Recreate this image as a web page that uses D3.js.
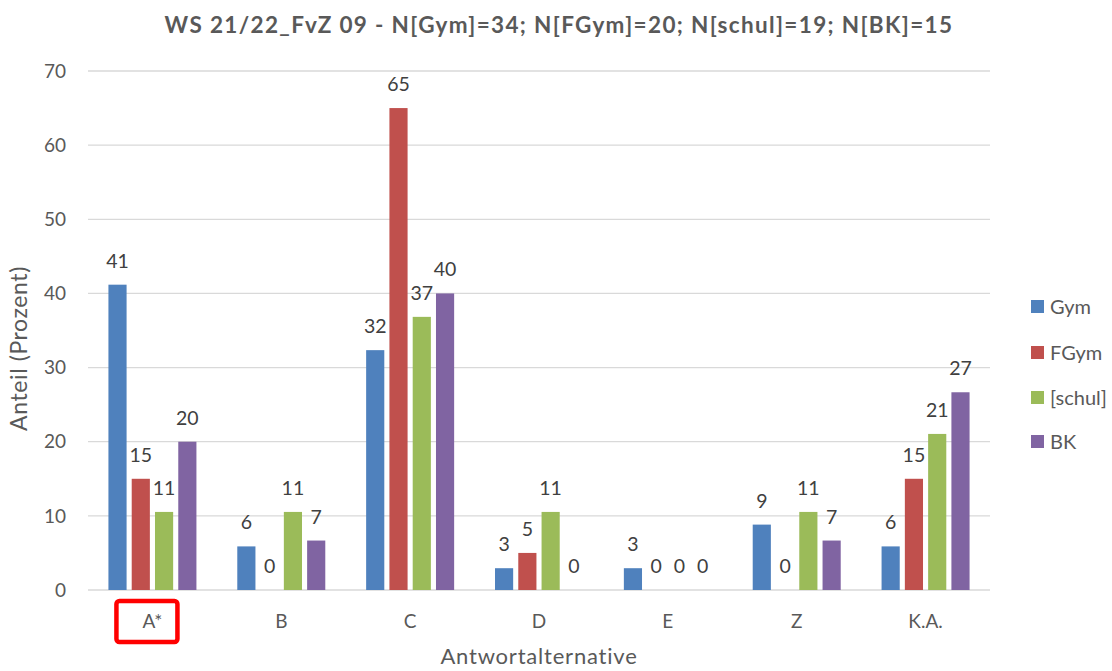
<!DOCTYPE html>
<html>
<head>
<meta charset="utf-8">
<script src="https://cdn.jsdelivr.net/npm/d3@7"></script>
<style>
  html, body { margin: 0; padding: 0; background: #fff; }
  svg { display: block; font-family: Lato, "Open Sans", sans-serif; }
</style>
</head>
<body>
<svg id="chart" width="1112" height="671"></svg>
<script>
// Response shares (percent) per answer option and school type
const categories = ["A*", "B", "C", "D", "E", "Z", "K.A."];
const seriesNames = ["Gym", "FGym", "[schul]", "BK"];
const gym   = [41.18, 5.88, 32.35, 2.94, 2.94, 8.82, 5.88];
const fgym  = [15, 0, 65, 5, 0, 0, 15];
const schul = [10.53, 10.53, 36.84, 10.53, 0, 10.53, 21.05];
const bk    = [20, 6.67, 40, 0, 0, 6.67, 26.67];
const yTicks = [0, 10, 20, 30, 40, 50, 60, 70];
const colors = ["#4F81BD", "#C0504D", "#9BBB59", "#8064A2"];
const titleText = "WS 21/22_FvZ 09 - N[Gym]=34; N[FGym]=20; N[schul]=19; N[BK]=15";

const values = [gym, fgym, schul, bk];
const rows = categories.map((c, i) => ({
  cat: c,
  vals: seriesNames.map((s, j) => ({ key: s, value: values[j][i], color: colors[j] }))
}));

const svg = d3.select("#chart");
const m = { left: 88, right: 990, top: 71, bottom: 590 };

const x0 = d3.scaleBand().domain(categories).range([m.left, m.right]).padding(0);
const groupW = 88;
const x1 = d3.scaleBand().domain(seriesNames).range([0, groupW]).paddingInner(0.22);
const y = d3.scaleLinear().domain([0, 70]).range([m.bottom, m.top]);

// gridlines
svg.append("g")
  .selectAll("line").data(yTicks).join("line")
  .attr("x1", m.left).attr("x2", m.right)
  .attr("y1", d => y(d)).attr("y2", d => y(d))
  .attr("stroke", "#d9d9d9").attr("stroke-width", 1.3);

// y tick labels
svg.append("g")
  .selectAll("text").data(yTicks).join("text")
  .attr("x", 66).attr("y", d => y(d)).attr("dy", "0.35em")
  .attr("text-anchor", "end")
  .attr("font-size", 19).attr("fill", "#595959")
  .text(d => d);

// bars
const groups = svg.append("g").selectAll("g").data(rows).join("g")
  .attr("transform", d => `translate(${x0(d.cat) + (x0.bandwidth() - groupW) / 2},0)`);

groups.selectAll("rect").data(d => d.vals).join("rect")
  .attr("x", d => x1(d.key))
  .attr("width", x1.bandwidth())
  .attr("y", d => y(d.value))
  .attr("height", d => y(0) - y(d.value))
  .attr("fill", d => d.color);

// value labels
groups.selectAll("text").data(d => d.vals).join("text")
  .attr("x", d => x1(d.key) + x1.bandwidth() / 2)
  .attr("y", d => y(d.value) - 17)
  .attr("text-anchor", "middle")
  .attr("font-size", 19.5).attr("fill", "#404040")
  .text(d => d3.format(".0f")(d.value));

// x category labels
svg.append("g")
  .selectAll("text").data(categories).join("text")
  .attr("x", d => x0(d) + x0.bandwidth() / 2)
  .attr("y", 628)
  .attr("text-anchor", "middle")
  .attr("font-size", 19).attr("fill", "#595959")
  .text(d => d);

// highlight box around the correct answer
const cx = x0("A*") + x0.bandwidth() / 2;
svg.append("rect")
  .attr("x", cx - 36).attr("y", 601)
  .attr("width", 61).attr("height", 41)
  .attr("rx", 3)
  .attr("fill", "none").attr("stroke", "#ff0000").attr("stroke-width", 4.5);

// axis titles
svg.append("text")
  .attr("transform", `translate(27,${(m.top + m.bottom) / 2 + 18}) rotate(-90)`)
  .attr("text-anchor", "middle")
  .attr("font-size", 23).attr("letter-spacing", 0.6).attr("fill", "#595959")
  .text("Anteil (Prozent)");

svg.append("text")
  .attr("x", 539).attr("y", 664)
  .attr("text-anchor", "middle")
  .attr("font-size", 22).attr("letter-spacing", 0.8).attr("fill", "#595959")
  .text("Antwortalternative");

// title
svg.append("text")
  .attr("x", 559).attr("y", 33)
  .attr("text-anchor", "middle")
  .attr("font-size", 22.5).attr("letter-spacing", 1.35)
  .attr("font-weight", "bold").attr("fill", "#595959")
  .text(titleText);

// legend
const legendY = [307, 353, 398, 442];
const legend = svg.append("g").selectAll("g").data(seriesNames).join("g")
  .attr("transform", (d, i) => `translate(1031,${legendY[i]})`);
legend.append("rect")
  .attr("x", 0).attr("y", -7).attr("width", 13).attr("height", 13)
  .attr("fill", (d, i) => colors[i]);
legend.append("text")
  .attr("x", 19).attr("y", 0).attr("dy", "0.35em")
  .attr("font-size", 20).attr("fill", "#595959")
  .text(d => d);
</script>
</body>
</html>
